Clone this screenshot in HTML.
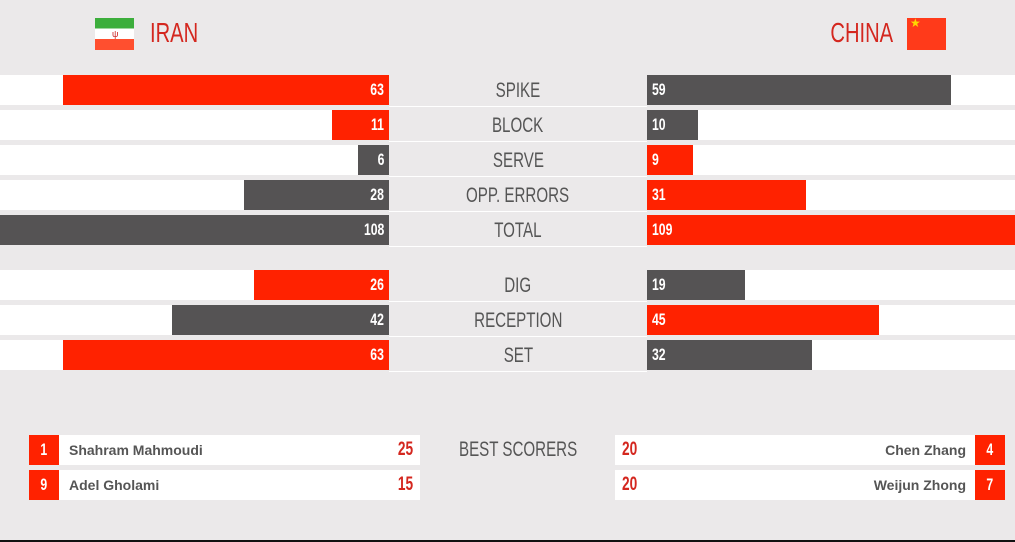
<!DOCTYPE html>
<html><head><meta charset="utf-8"><style>
body{margin:0;width:1015px;height:542px;background:#ebe9ea;position:relative;overflow:hidden;font-family:"Liberation Sans",sans-serif}
.a{position:absolute}
.c{font-family:"Liberation Sans Narrow","Liberation Sans",sans-serif;display:inline-block;transform:scaleX(.72);}
.w{background:#fff;height:30px}
.r{background:#ff2200}.d{background:#555354}
.n{color:#fff;font-size:17px;line-height:30px;height:30px;font-weight:bold}
.lab{width:258px;left:389px;text-align:center;color:#555;font-size:21px;line-height:30px;height:30px}
.sep{left:389px;width:258px;height:1px;background:#fff}
</style></head><body>
<div class="a" style="left:95px;top:18px;width:39px;height:32px;background:linear-gradient(#3cae3c 0 33%,#fff 33% 66%,#ff4f2f 66%);"></div>
<div class="a" style="left:112px;top:29px;color:#c22;font-size:9px">ψ</div>
<div class="a" style="left:150px;top:17px;color:#d4271f;font-size:28px"><span class="c" style="transform-origin:left">IRAN</span></div>
<div class="a" style="left:907px;top:18px;width:39px;height:32px;background:#ff3a1a"></div>
<div class="a" style="left:910px;top:16px;color:#ffd800;font-size:12px">★</div>
<div class="a" style="right:122px;top:17px;color:#d4271f;font-size:28px"><span class="c" style="transform-origin:right">CHINA</span></div>
<div id="rows"></div>
<script>
var rows=[[75,'SPIKE',63,326,'r',59,304,'d'],[110,'BLOCK',11,57,'r',10,51,'d'],[145,'SERVE',6,31,'d',9,46,'r'],[180,'OPP. ERRORS',28,145,'d',31,159,'r'],[215,'TOTAL',108,389,'d',109,368,'r'],[270,'DIG',26,135,'r',19,98,'d'],[305,'RECEPTION',42,217,'d',45,232,'r'],[340,'SET',63,326,'r',32,165,'d']];
var h='';
rows.forEach(function(r){var y=r[0];
h+='<div class="a w" style="left:0;top:'+y+'px;width:389px"></div><div class="a w" style="left:647px;top:'+y+'px;width:368px"></div>';
h+='<div class="a sep" style="top:'+(y+31)+'px"></div>';
h+='<div class="a '+r[4]+' n" style="left:'+(389-r[3])+'px;top:'+y+'px;width:'+r[3]+'px;text-align:right"><span class="c" style="transform-origin:right;margin-right:5px">'+r[2]+'</span></div>';
h+='<div class="a '+r[7]+' n" style="left:647px;top:'+y+'px;width:'+r[6]+'px"><span class="c" style="transform-origin:left;margin-left:5px">'+r[5]+'</span></div>';
h+='<div class="a lab" style="top:'+(y+1)+'px"><span class="c">'+r[1]+'</span></div>';});
var s=[[435,'1','Shahram Mahmoudi','25','20','Chen Zhang','4'],[470,'9','Adel Gholami','15','20','Weijun Zhong','7']];
s.forEach(function(r){var y=r[0];
h+='<div class="a r n" style="left:29px;top:'+y+'px;width:30px;text-align:center"><span class="c">'+r[1]+'</span></div>';
h+='<div class="a w" style="left:59px;top:'+y+'px;width:361px"></div>';
h+='<div class="a" style="left:69px;top:'+y+'px;line-height:30px;font-size:14px;font-weight:bold;color:#555">'+r[2]+'</div>';
h+='<div class="a" style="left:380px;width:33px;text-align:right;top:'+y+'px;line-height:30px;font-size:19px;font-weight:bold;color:#d4271f"><span class="c" style="transform-origin:right">'+r[3]+'</span></div>';
h+='<div class="a w" style="left:615px;top:'+y+'px;width:360px"></div>';
h+='<div class="a" style="left:622px;top:'+y+'px;line-height:30px;font-size:19px;font-weight:bold;color:#d4271f"><span class="c" style="transform-origin:left">'+r[4]+'</span></div>';
h+='<div class="a" style="right:49px;top:'+y+'px;line-height:30px;font-size:14px;font-weight:bold;color:#555">'+r[5]+'</div>';
h+='<div class="a r n" style="left:975px;top:'+y+'px;width:30px;text-align:center"><span class="c">'+r[6]+'</span></div>';});
h+='<div class="a lab" style="top:435px"><span class="c">BEST SCORERS</span></div>';
document.getElementById('rows').innerHTML=h;
</script>
<div class="a" style="left:0;top:540px;width:1015px;height:2px;background:#111"></div>
</body></html>
